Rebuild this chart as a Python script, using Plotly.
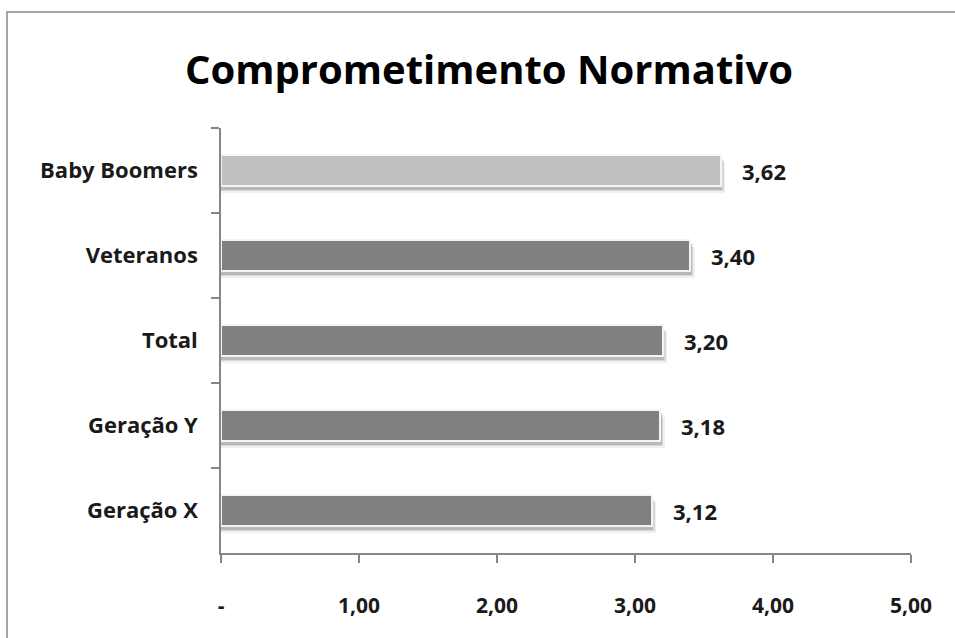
import plotly.graph_objects as go

# Data
groups = ["Baby Boomers", "Veteranos", "Total", "Geração Y", "Geração X"]
scores = [3.62, 3.40, 3.20, 3.18, 3.12]
bar_colors = ["#C0C0C0", "#808080", "#808080", "#808080", "#808080"]
tick_values = [0, 1, 2, 3, 4, 5]
tick_labels = ["-", "1,00", "2,00", "3,00", "4,00", "5,00"]

FONT = "Open Sans"
BAR_W = 0.37

fig = go.Figure()

# soft drop shadow under each bar
for dx, dy, alpha in [(0.035, 0.085, 0.06), (0.022, 0.06, 0.10), (0.012, 0.04, 0.14)]:
    fig.add_trace(go.Bar(
        y=groups, x=[v + dx for v in scores], orientation="h",
        width=BAR_W, offset=-BAR_W / 2 + dy,
        marker=dict(color=f"rgba(0,0,0,{alpha})", line=dict(width=0)),
        hoverinfo="skip", showlegend=False,
    ))

# main bars
fig.add_trace(go.Bar(
    y=groups, x=scores, orientation="h",
    width=BAR_W, offset=-BAR_W / 2,
    marker=dict(color=bar_colors, line=dict(color="#f4f4f4", width=2)),
    showlegend=False,
))

# value labels
for g, v in zip(groups, scores):
    fig.add_annotation(
        x=v, y=g, xref="x", yref="y",
        text=f"{v:.2f}".replace(".", ","),
        showarrow=False, xanchor="left", yanchor="middle", xshift=19,
        font=dict(family=FONT, size=22, color="#1a1a1a", weight="bold"),
    )

# outer chart frame
fig.add_shape(
    type="rect", xref="paper", yref="paper",
    x0=(7 - 221) / 690, x1=1.2, y0=-0.3, y1=1 + (128 - 12) / 425,
    line=dict(color="#a6a6a6", width=2), fillcolor="rgba(0,0,0,0)", layer="below",
)

fig.update_layout(
    width=955, height=638,
    margin=dict(l=221, r=44, t=128, b=85),
    paper_bgcolor="white", plot_bgcolor="white",
    barmode="overlay", bargap=0,
    title=dict(
        text="Comprometimento Normativo",
        x=489 / 955, xanchor="center", xref="container",
        y=1 - 70 / 638, yanchor="middle", yref="container",
        font=dict(family=FONT, size=40, color="#000000", weight="bold"),
    ),
    xaxis=dict(
        range=[0, 5], tickvals=tick_values, ticktext=tick_labels,
        showgrid=False, zeroline=False,
        showline=True, linecolor="#868686", linewidth=1.5,
        ticks="outside", ticklen=8, tickcolor="#868686", tickwidth=1.5,
        ticklabelstandoff=25,
        tickfont=dict(family=FONT, size=21, color="#1a1a1a", weight="bold"),
    ),
    yaxis=dict(
        type="category", autorange="reversed",
        showgrid=False, zeroline=False,
        showline=True, linecolor="#868686", linewidth=1.5,
        ticks="outside", tickson="boundaries", ticklen=8,
        tickcolor="#868686", tickwidth=1.5,
        ticklabelstandoff=17,
        tickfont=dict(family=FONT, size=22, color="#1a1a1a", weight="bold"),
    ),
)

fig.write_html("out.html")
